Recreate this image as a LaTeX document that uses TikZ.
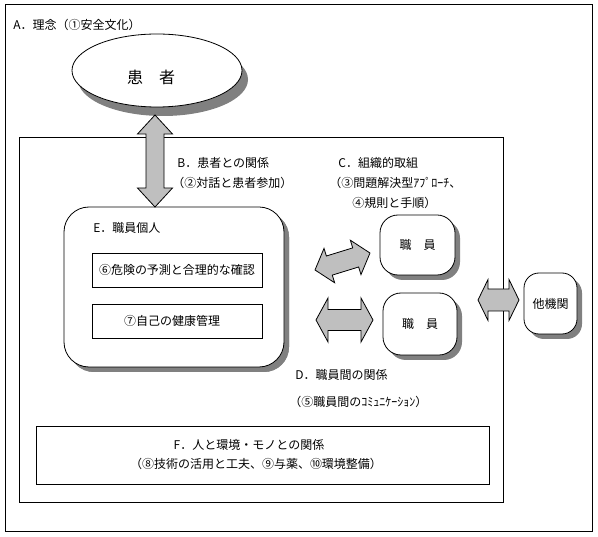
\documentclass[tikz,border=0pt]{standalone}
\usepackage{fontspec}
\setmainfont{Noto Sans CJK JP}
\usetikzlibrary{calc,shadows,shapes.geometric}
\tikzset{
  pics/dblarrow/.style n args={4}{code={
    % #1 length, #2 shaft half width, #3 head half width, #4 head length
    \filldraw[arrowbody]
      ({-(#1)/2},0) -- ({-(#1)/2+#4},#3) -- ({-(#1)/2+#4},#2)
      -- ({(#1)/2-#4},#2) -- ({(#1)/2-#4},#3) -- ({(#1)/2},0)
      -- ({(#1)/2-#4},{-(#3)}) -- ({(#1)/2-#4},{-(#2)})
      -- ({-(#1)/2+#4},{-(#2)}) -- ({-(#1)/2+#4},{-(#3)}) -- cycle;
  }},
  arrowbody/.style={fill=black!25, draw=black, line width=0.8pt, line join=miter},
  shd/.style={drop shadow={shadow xshift=5pt, shadow yshift=-5pt, fill=black!50, opacity=1}},
  rbox/.style={rectangle, draw, fill=white, rounded corners=#1, shd, inner sep=0pt},
  plainbox/.style={rectangle, draw, fill=white, inner sep=0pt},
  lbl/.style={inner sep=0pt, anchor=west},
  clbl/.style={inner sep=0pt},
}
\newcommand\fatlink[6]{%
  \path let \p1=(#1), \p2=(#2),
    \n1={atan2(\y2-\y1,\x2-\x1)}, \n2={veclen(\x2-\x1,\y2-\y1)} in
    ($(\p1)!0.5!(\p2)$) pic[rotate=\n1] {dblarrow={\n2}{#3}{#4}{#5}};%
}
\begin{document}
\begin{tikzpicture}[x=1pt, y=-1pt, line width=0.8pt, font=\fontsize{12}{14}\selectfont]
\useasboundingbox (0,0) rectangle (598,537);
% frames
\draw (5,4) rectangle (592,531);
\draw (19,137) rectangle (503,502);

% title A
\node[lbl] (tA) at (13,25) {A．理念（①安全文化）};

% patient ellipse
\node[ellipse, draw, fill=white, minimum width=170pt, minimum height=73pt, inner sep=0pt,
      drop shadow={shadow xshift=6pt, shadow yshift=-9pt, fill=black!50, opacity=1}]
      (pat) at (157,70.5) {};
\node[clbl, font=\fontsize{16}{18}\selectfont] (patl) at (151,77) {患　者};

% E box
\node[rbox=25pt, minimum width=220pt, minimum height=160pt, shd] (E) at (174,287) {};
\node[lbl] (Et) at (93,228) {E．職員個人};
\node[plainbox, minimum width=170pt, minimum height=34pt] (b6) at (177,270) {⑥危険の予測と合理的な確認};
\node[plainbox, minimum width=170pt, minimum height=34pt] (b7) at (177,321) {\hspace*{-10pt}⑦自己の健康管理};

% staff boxes
\node[rbox=18pt, minimum width=75pt, minimum height=60pt] (s1) at (417.5,245) {職　員};
\node[rbox=18pt, minimum width=74pt, minimum height=62pt] (s2) at (420,324) {職　員};
\node[rbox=15pt, minimum width=53pt, minimum height=61pt] (ot) at (550.5,303.5) {他機関};

% arrow end points
\coordinate (va1) at (155,115);
\coordinate (va2) at (155,207);
\coordinate (ua1) at (315,270);
\coordinate (ua2) at (370,253);
\coordinate (la1) at (316,320);
\coordinate (la2) at (373,320);
\coordinate (oa1) at (478,300);
\coordinate (oa2) at (519,300);

\fatlink{va1}{va2}{9}{17.5}{19}{}
\fatlink{ua1}{ua2}{10}{18}{15}{}
\fatlink{la1}{la2}{10.5}{22}{12}{}
\fatlink{oa1}{oa2}{11}{20.5}{10}{}

% labels
\node[lbl] (B1) at (177,163) {B．患者との関係};
\node[lbl] (B2) at (172,183) {（②対話と患者参加）};
\node[lbl] (C1) at (338,163) {C．組織的取組};
\node[lbl] (C2) at (329,183) {（③問題解決型ｱﾌﾟﾛｰﾁ、};
\node[lbl] (C3) at (352,203) {④規則と手順）};
\node[lbl] (D1) at (295,375) {D．職員間の関係};
\node[lbl] (D2) at (289,402) {（⑤職員間のｺﾐｭﾆｹｰｼｮﾝ）};

% F box
\draw (36,426) rectangle (489,484);
\node[clbl] (F1) at (249,445) {F．人と環境・モノとの関係};
\node[clbl] (F2) at (256,464) {（⑧技術の活用と工夫、⑨与薬、⑩環境整備）};
\end{tikzpicture}
\end{document}
